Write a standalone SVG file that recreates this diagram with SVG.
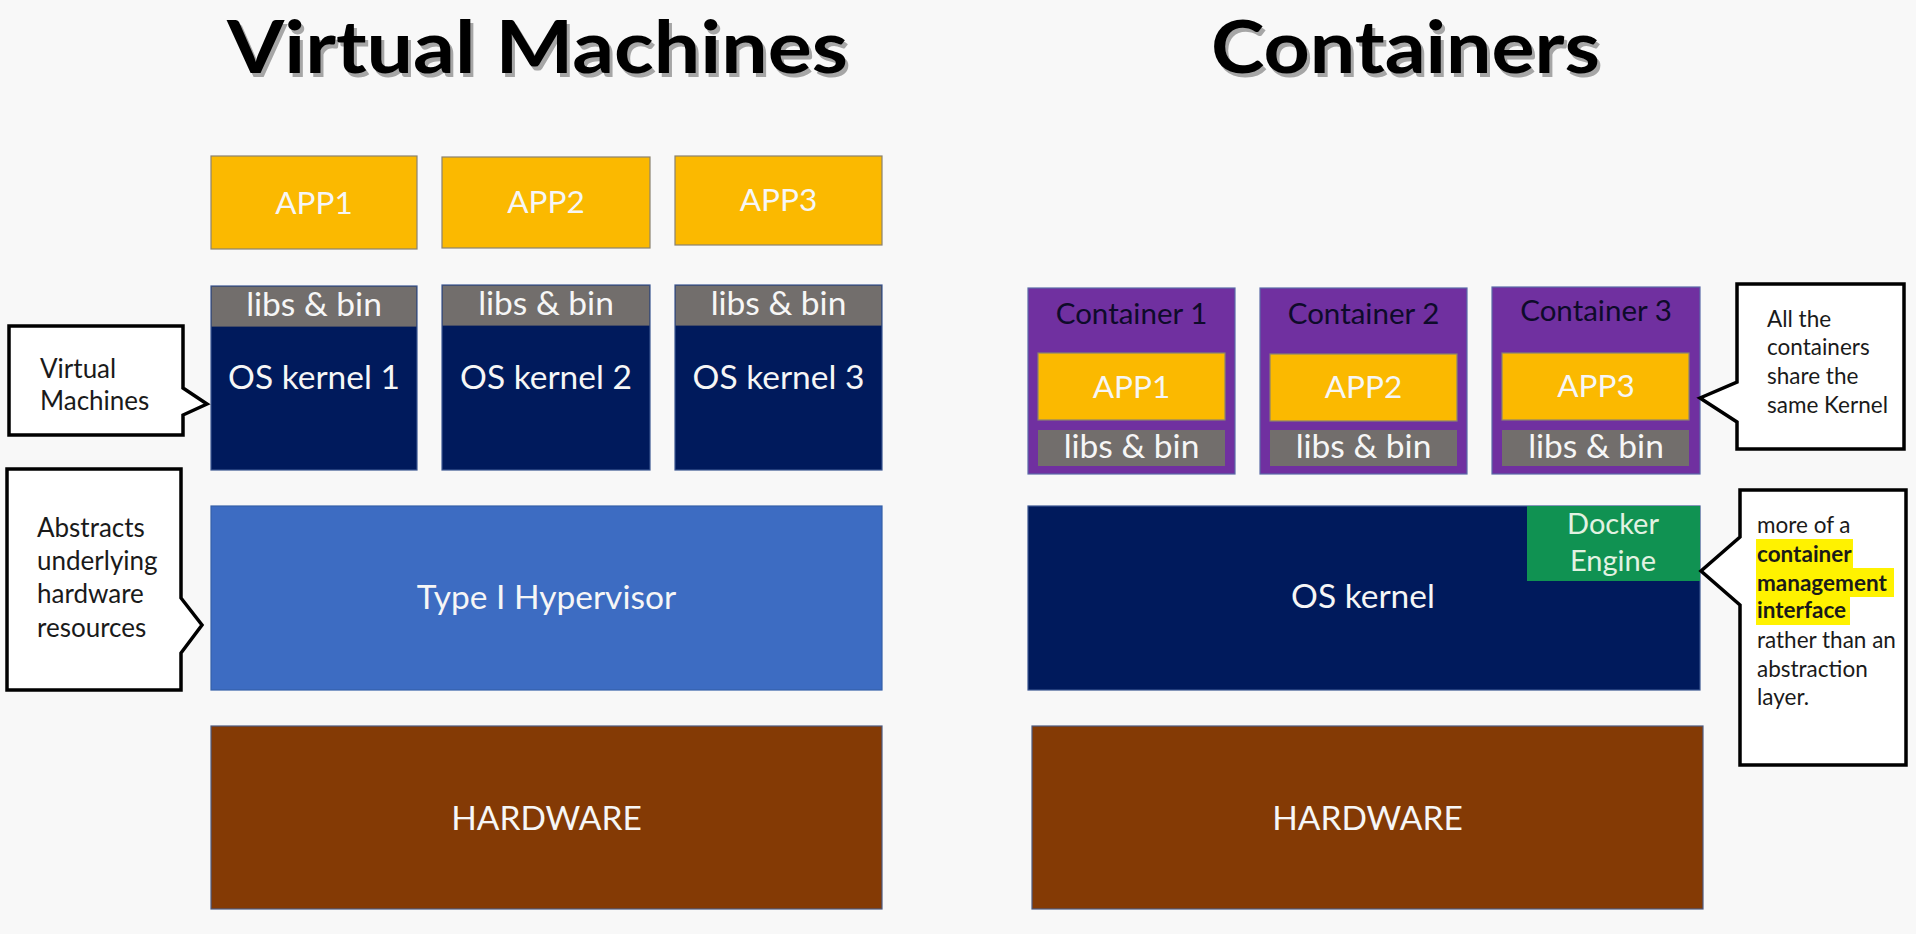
<svg xmlns="http://www.w3.org/2000/svg" width="1916" height="934" viewBox="0 0 1916 934">
<style>
.lbl{font-family:Lato,"Liberation Sans",sans-serif;fill:#f6f6f6;text-anchor:middle}
.big{font-size:33.5px}
.app{fill:#fbb900;stroke:#8a8270;stroke-width:1.2}
.libs{fill:#726e6c}
.navy{fill:#001a5c;stroke:#3a5590;stroke-width:1.2}
.cont{fill:#7030a0;stroke:#5b6aa8;stroke-width:1.2}
.call{fill:#ffffff;stroke:#000;stroke-width:3.5;stroke-linejoin:miter}
.ctext{font-family:Lato,"Liberation Sans",sans-serif;fill:#1a1a1a}
.title{font-family:Lato,"Liberation Sans",sans-serif;font-weight:bold;font-size:72px;text-anchor:middle}
.hl{fill:#fff200}
</style>
<rect x="0" y="0" width="1916" height="934" fill="#f8f8f8"/>

<g id="title-vm">
<text class="title" x="540.5" y="76.5" fill="#a6a6a6" textLength="621" lengthAdjust="spacingAndGlyphs">Virtual Machines</text>
<text class="title" x="537.5" y="73" fill="#000" textLength="621" lengthAdjust="spacingAndGlyphs">Virtual Machines</text>
</g>
<g id="title-containers">
<text class="title" x="1408.5" y="76.5" fill="#a6a6a6" textLength="389" lengthAdjust="spacingAndGlyphs">Containers</text>
<text class="title" x="1405.5" y="73" fill="#000" textLength="389" lengthAdjust="spacingAndGlyphs">Containers</text>
</g>

<!-- Virtual machine side -->
<g id="vm-app1"><rect class="app" x="211" y="156" width="206" height="93"/><text class="lbl" x="314" y="214" font-size="31.5">APP1</text></g>
<g id="vm-app2"><rect class="app" x="442" y="157" width="208" height="91"/><text class="lbl" x="546" y="213" font-size="31.5">APP2</text></g>
<g id="vm-app3"><rect class="app" x="675" y="156" width="207" height="89"/><text class="lbl" x="778.5" y="211" font-size="31.5">APP3</text></g>

<g id="vm-kernel1"><rect class="navy" x="211" y="286" width="206" height="184"/><rect class="libs" x="211.6" y="286.6" width="204.8" height="40"/>
<text class="lbl big" x="314" y="316">libs &amp; bin</text><text class="lbl big" x="314" y="389">OS kernel 1</text></g>
<g id="vm-kernel2"><rect class="navy" x="442" y="285" width="208" height="185"/><rect class="libs" x="442.6" y="285.6" width="206.8" height="40"/>
<text class="lbl big" x="546" y="315">libs &amp; bin</text><text class="lbl big" x="546" y="389">OS kernel 2</text></g>
<g id="vm-kernel3"><rect class="navy" x="675" y="285" width="207" height="185"/><rect class="libs" x="675.6" y="285.6" width="205.8" height="40"/>
<text class="lbl big" x="778.5" y="315">libs &amp; bin</text><text class="lbl big" x="778.5" y="389">OS kernel 3</text></g>

<g id="hypervisor"><rect x="211" y="506" width="671" height="184" fill="#3d6cc2" stroke="#3560a8" stroke-width="1.2"/>
<text class="lbl big" x="546.5" y="609">Type I Hypervisor</text></g>
<g id="vm-hardware"><rect x="211" y="726" width="671" height="183" fill="#843a05" stroke="#4d5a80" stroke-width="1.2"/>
<text class="lbl big" x="546.5" y="830">HARDWARE</text></g>

<g id="callout-vm">
<path class="call" d="M9,326 H183 V388 L207,404 L183,415 V435 H9 Z"/>
<text class="ctext" font-size="26" x="40" y="378">Virtual</text>
<text class="ctext" font-size="26" x="40" y="410">Machines</text>
</g>
<g id="callout-abstracts">
<path class="call" d="M7,469 H181 V598 L202,625 L181,653 V690 H7 Z"/>
<text class="ctext" font-size="26" x="37" y="537">Abstracts</text>
<text class="ctext" font-size="26" x="37" y="570">underlying</text>
<text class="ctext" font-size="26" x="37" y="603">hardware</text>
<text class="ctext" font-size="26" x="37" y="637">resources</text>
</g>

<!-- Containers side -->
<g id="container1"><rect class="cont" x="1028" y="288" width="207" height="186"/>
<text class="lbl" x="1131.5" y="324" font-size="29.5" style="fill:#0e0b2a">Container 1</text>
<rect class="app" x="1038" y="353" width="187" height="67"/><text class="lbl" x="1131.5" y="398" font-size="31.5">APP1</text>
<rect class="libs" x="1038" y="430" width="187" height="36"/><text class="lbl big" x="1131.5" y="458">libs &amp; bin</text></g>
<g id="container2"><rect class="cont" x="1260" y="288" width="207" height="186"/>
<text class="lbl" x="1363.5" y="324" font-size="29.5" style="fill:#0e0b2a">Container 2</text>
<rect class="app" x="1270" y="354" width="187" height="67"/><text class="lbl" x="1363.5" y="398" font-size="31.5">APP2</text>
<rect class="libs" x="1270" y="430" width="187" height="36"/><text class="lbl big" x="1363.5" y="458">libs &amp; bin</text></g>
<g id="container3"><rect class="cont" x="1492" y="287" width="208" height="187"/>
<text class="lbl" x="1596" y="321" font-size="29.5" style="fill:#0e0b2a">Container 3</text>
<rect class="app" x="1502" y="353" width="187" height="67"/><text class="lbl" x="1596" y="397" font-size="31.5">APP3</text>
<rect class="libs" x="1502" y="430" width="187" height="36"/><text class="lbl big" x="1596" y="458">libs &amp; bin</text></g>

<g id="os-kernel"><rect class="navy" x="1028" y="506" width="672" height="184"/>
<text class="lbl big" x="1363" y="608">OS kernel</text></g>
<g id="docker-engine"><rect x="1527" y="506" width="173" height="75" fill="#109252"/>
<text class="lbl" x="1613" y="534" font-size="29" style="fill:#e2f2e2">Docker</text>
<text class="lbl" x="1613" y="571" font-size="29" style="fill:#e2f2e2">Engine</text></g>
<g id="ct-hardware"><rect x="1032" y="726" width="671" height="183" fill="#843a05" stroke="#4d5a80" stroke-width="1.2"/>
<text class="lbl big" x="1367.5" y="830">HARDWARE</text></g>

<g id="callout-share">
<path class="call" d="M1737,284 H1904 V449 H1737 V422 L1700,398 L1737,382 Z"/>
<text class="ctext" font-size="22.5" x="1767" y="327">All the</text>
<text class="ctext" font-size="22.5" x="1767" y="355">containers</text>
<text class="ctext" font-size="22.5" x="1767" y="384">share the</text>
<text class="ctext" font-size="22.5" x="1767" y="413">same Kernel</text>
</g>
<g id="callout-docker">
<path class="call" d="M1740,490 H1906 V765 H1740 V605 L1701,571 L1740,537 Z"/>
<rect class="hl" x="1756" y="539" width="97" height="29"/>
<rect class="hl" x="1756" y="568" width="138" height="29"/>
<rect class="hl" x="1756" y="597" width="94" height="28"/>
<text class="ctext" font-size="22.5" x="1757" y="533">more of a</text>
<text class="ctext" font-size="22.5" x="1757" y="562" font-weight="bold">container</text>
<text class="ctext" font-size="22.5" x="1757" y="591" font-weight="bold">management</text>
<text class="ctext" font-size="22.5" x="1757" y="618" font-weight="bold">interface</text>
<text class="ctext" font-size="22.5" x="1757" y="648">rather than an</text>
<text class="ctext" font-size="22.5" x="1757" y="677">abstraction</text>
<text class="ctext" font-size="22.5" x="1757" y="705">layer.</text>
</g>

<g id="connectors"></g>
</svg>
